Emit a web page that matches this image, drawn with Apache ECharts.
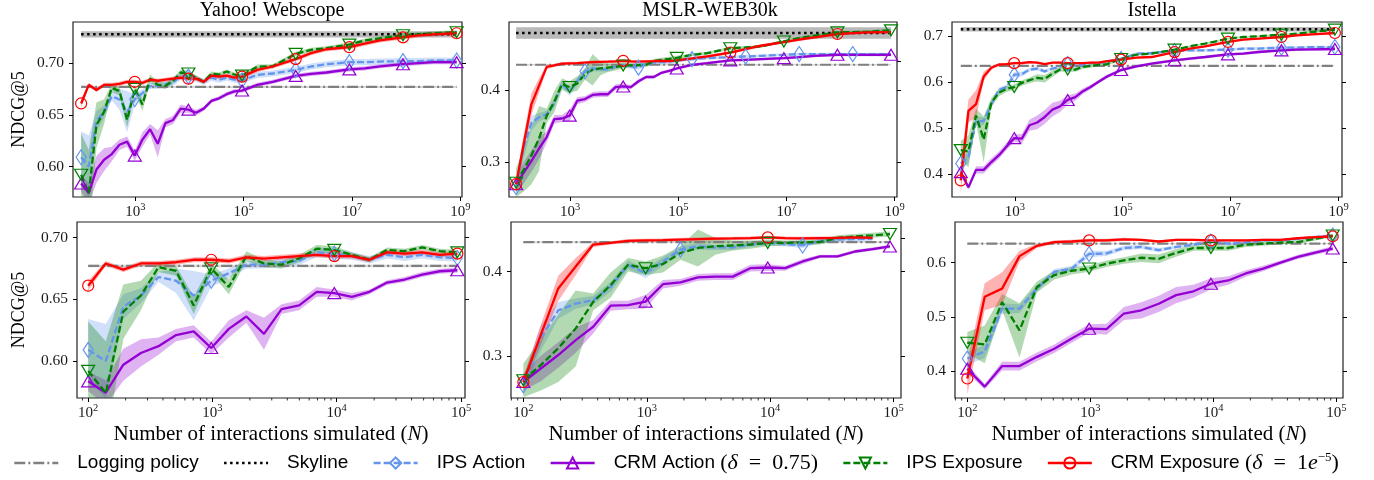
<!DOCTYPE html>
<html><head><meta charset="utf-8">
<script src="https://cdn.jsdelivr.net/npm/echarts@6/dist/echarts.min.js"></script>
<style>html,body{margin:0;padding:0;background:#fff}#c{width:1374px;height:480px}</style>
</head><body><div id="c"></div>
<script>
// ---------- DATA ----------
const N_VALUES = [100,138.5,191.8,265.7,368.0,509.7,705.9,977.7,1354,1875,2597,3597,4982,6900,9557,13236,18332,25390,35166,48705,67456,93427,
  179100,343500,913000,1752000,3360000,8928000,17130000,32860000,87300000,167500000,321300000,853500000];
const BOTTOM_POINTS = 22;

const MARKS_EVERY_7 = [0,7,14,21,24,27,30,33];
const MARKS_MSLR_CRM_EXPOSURE = [0,14,24,30];
const MARKS_MSLR_IPS_ACTION = [0,9,16,22,25,28,31];

const DATASET_TITLES = ['Yahoo! Webscope','MSLR-WEB30k','Istella'];
const LOGGING_POLICY = [0.677,0.435,0.635];
const LOGGING_POLICY_CI = [0.001,0.001,0.001];
const SKYLINE = [0.728,0.479,0.7146];
const SKYLINE_CI = [0.003,0.008,0.0047];

const TOP_X_TICKS = [1e3,1e5,1e7,1e9];
const BOTTOM_X_TICKS = [1e2,1e3,1e4,1e5];
const BOTTOM_X_MINOR_TICKS = [80,90,200,300,400,500,600,700,800,900,2000,3000,4000,5000,6000,7000,8000,9000,20000,30000,40000,50000,60000,70000,80000,90000];
const Y_TICKS_YAHOO = [0.60,0.65,0.70];
const Y_TICKS_MSLR = [0.3,0.4];
const Y_TICKS_MSLR_RIGHT = [0.3,0.4,0.44];
const Y_TICKS_ISTELLA_TOP = [0.4,0.5,0.6,0.7];
const Y_TICKS_ISTELLA_BOTTOM = [0.4,0.5,0.6];

// Yahoo! Webscope
const YAHOO_IPS_ACTION = [0.609,0.600,0.644,0.653,0.668,0.665,0.653,0.665,0.671,0.678,0.678,0.680,0.681,0.688,0.687,0.685,0.682,0.686,0.684,0.686,0.684,0.6835,0.6887,0.690,0.6935,0.6968,0.699,0.701,0.701,0.7016,0.702,0.702,0.7026,0.7026];
const YAHOO_IPS_ACTION_CI = [0.025,0.03,0.01,0.006,0.004,0.01,0.02,0.005,0.004,0.003,0.003,0.003,0.003,0.004,0.004,0.003,0.003,0.003,0.003,0.003,0.003,0.003,0.003,0.003,0.003,0.003,0.003,0.003,0.003,0.003,0.003,0.003,0.003,0.003];
const YAHOO_CRM_ACTION = [0.5835,0.5743,0.597,0.6065,0.612,0.621,0.624,0.6105,0.626,0.636,0.622,0.642,0.645,0.656,0.655,0.652,0.656,0.6635,0.666,0.670,0.6727,0.6735,0.679,0.682,0.6877,0.6897,0.691,0.694,0.695,0.697,0.699,0.700,0.701,0.701];
const YAHOO_CRM_ACTION_CI = [0.008,0.01,0.013,0.011,0.007,0.005,0.005,0.005,0.007,0.005,0.013,0.004,0.004,0.004,0.003,0.003,0.002,0.002,0.002,0.002,0.002,0.002,0.002,0.002,0.002,0.002,0.002,0.002,0.002,0.002,0.002,0.002,0.002,0.002];
const YAHOO_IPS_EXPOSURE = [0.592,0.574,0.640,0.653,0.676,0.673,0.645,0.675,0.660,0.685,0.679,0.678,0.683,0.691,0.690,0.686,0.682,0.690,0.689,0.692,0.689,0.688,0.6967,0.697,0.709,0.713,0.7145,0.718,0.722,0.724,0.727,0.728,0.729,0.730];
const YAHOO_IPS_EXPOSURE_CI = [0.04,0.042,0.022,0.012,0.004,0.004,0.007,0.004,0.006,0.004,0.003,0.003,0.003,0.003,0.003,0.002,0.002,0.002,0.002,0.002,0.002,0.002,0.002,0.002,0.002,0.002,0.002,0.002,0.002,0.002,0.002,0.002,0.002,0.002];
const YAHOO_CRM_EXPOSURE = [0.661,0.679,0.674,0.679,0.679,0.680,0.682,0.682,0.681,0.684,0.683,0.684,0.685,0.686,0.685,0.685,0.682,0.688,0.687,0.688,0.686,0.687,0.6935,0.6968,0.704,0.7097,0.7135,0.7155,0.719,0.722,0.725,0.727,0.728,0.729];
const YAHOO_CRM_EXPOSURE_CI = [0.004,0.002,0.002,0.002,0.002,0.002,0.002,0.002,0.002,0.002,0.002,0.002,0.002,0.002,0.002,0.002,0.002,0.002,0.002,0.002,0.002,0.002,0.002,0.002,0.002,0.002,0.002,0.002,0.002,0.002,0.002,0.002,0.002,0.002];

// MSLR-WEB30k
const MSLR_IPS_ACTION = [0.265,0.321,0.354,0.362,0.366,0.382,0.408,0.398,0.412,0.426,0.430,0.4286,0.4286,0.432,0.434,0.4326,0.431,0.4365,0.438,0.4385,0.439,0.441,0.4428,0.4442,0.4456,0.4465,0.4474,0.4488,0.4498,0.4498,0.4498,0.4498,0.4498,0.4498];
const MSLR_IPS_ACTION_CI = [0.01,0.015,0.01,0.006,0.005,0.006,0.005,0.006,0.005,0.004,0.004,0.003,0.003,0.003,0.003,0.003,0.003,0.003,0.003,0.003,0.003,0.003,0.002,0.002,0.002,0.002,0.002,0.002,0.002,0.002,0.002,0.002,0.002,0.002];
const MSLR_CRM_ACTION = [0.269,0.285,0.301,0.3186,0.3345,0.3595,0.3603,0.3643,0.385,0.3873,0.393,0.394,0.394,0.404,0.4048,0.404,0.412,0.418,0.418,0.4238,0.4266,0.4298,0.4349,0.4372,0.441,0.4419,0.4428,0.4442,0.4456,0.4474,0.4488,0.4488,0.4488,0.4488];
const MSLR_CRM_ACTION_CI = [0.01,0.015,0.015,0.015,0.008,0.006,0.005,0.008,0.005,0.004,0.004,0.004,0.004,0.004,0.004,0.003,0.003,0.002,0.002,0.002,0.002,0.002,0.002,0.002,0.002,0.002,0.002,0.002,0.002,0.002,0.002,0.002,0.002,0.002];
const MSLR_IPS_EXPOSURE = [0.271,0.289,0.309,0.3325,0.364,0.384,0.408,0.404,0.409,0.422,0.428,0.430,0.431,0.432,0.434,0.434,0.4345,0.435,0.440,0.4417,0.443,0.4445,0.4488,0.4511,0.458,0.459,0.4605,0.4674,0.472,0.4753,0.480,0.4804,0.481,0.4828];
const MSLR_IPS_EXPOSURE_CI = [0.02,0.03,0.04,0.045,0.01,0.015,0.008,0.008,0.01,0.008,0.022,0.01,0.006,0.005,0.004,0.003,0.003,0.003,0.003,0.003,0.003,0.003,0.002,0.002,0.002,0.002,0.002,0.002,0.002,0.002,0.002,0.002,0.002,0.002];
const MSLR_CRM_EXPOSURE = [0.269,0.325,0.380,0.406,0.432,0.434,0.4365,0.437,0.4373,0.438,0.4385,0.439,0.4393,0.4397,0.4405,0.4397,0.4393,0.4397,0.440,0.4405,0.440,0.441,0.4437,0.4465,0.452,0.4567,0.4614,0.4665,0.470,0.473,0.4777,0.479,0.480,0.4804];
const MSLR_CRM_EXPOSURE_CI = [0.006,0.012,0.015,0.01,0.003,0.002,0.002,0.002,0.002,0.002,0.002,0.002,0.002,0.002,0.002,0.002,0.002,0.002,0.002,0.002,0.002,0.002,0.002,0.002,0.002,0.002,0.002,0.002,0.002,0.002,0.002,0.002,0.002,0.002];

// Istella
const ISTELLA_IPS_ACTION = [0.423,0.436,0.515,0.515,0.552,0.583,0.589,0.616,0.617,0.627,0.629,0.623,0.629,0.633,0.639,0.635,0.637,0.641,0.641,0.644,0.647,0.650,0.6616,0.663,0.6674,0.6688,0.6688,0.6703,0.6725,0.6725,0.6746,0.6746,0.676,0.676];
const ISTELLA_IPS_ACTION_CI = [0.012,0.012,0.01,0.008,0.006,0.005,0.005,0.006,0.005,0.004,0.004,0.004,0.003,0.003,0.003,0.003,0.003,0.003,0.003,0.003,0.003,0.003,0.003,0.003,0.003,0.003,0.003,0.003,0.003,0.003,0.003,0.003,0.003,0.003];
const ISTELLA_CRM_ACTION = [0.404,0.371,0.409,0.409,0.426,0.441,0.460,0.478,0.477,0.506,0.512,0.524,0.540,0.547,0.561,0.567,0.580,0.589,0.600,0.6105,0.6185,0.626,0.634,0.6398,0.6471,0.6507,0.6543,0.6601,0.6616,0.6652,0.6688,0.6703,0.671,0.6717];
const ISTELLA_CRM_ACTION_CI = [0.008,0.005,0.008,0.008,0.008,0.008,0.008,0.008,0.01,0.012,0.015,0.015,0.015,0.012,0.01,0.008,0.006,0.005,0.004,0.004,0.004,0.004,0.003,0.003,0.003,0.003,0.003,0.003,0.003,0.003,0.003,0.003,0.003,0.003];
const ISTELLA_IPS_EXPOSURE = [0.452,0.449,0.527,0.475,0.555,0.577,0.585,0.589,0.598,0.604,0.609,0.607,0.618,0.627,0.627,0.627,0.633,0.635,0.637,0.638,0.644,0.650,0.6594,0.6616,0.6703,0.6775,0.6833,0.6942,0.6978,0.6993,0.7029,0.7051,0.7087,0.7138];
const ISTELLA_IPS_EXPOSURE_CI = [0.02,0.035,0.015,0.05,0.01,0.008,0.007,0.006,0.006,0.006,0.008,0.008,0.007,0.005,0.005,0.005,0.004,0.004,0.003,0.003,0.003,0.003,0.002,0.002,0.002,0.002,0.002,0.002,0.002,0.002,0.002,0.002,0.002,0.002];
const ISTELLA_CRM_EXPOSURE = [0.386,0.537,0.552,0.612,0.631,0.638,0.639,0.641,0.641,0.643,0.642,0.639,0.642,0.642,0.641,0.641,0.641,0.642,0.642,0.645,0.647,0.6486,0.6529,0.6543,0.665,0.6725,0.6775,0.687,0.692,0.6942,0.6978,0.7014,0.7036,0.7065];
const ISTELLA_CRM_EXPOSURE_CI = [0.03,0.025,0.03,0.01,0.004,0.003,0.003,0.003,0.003,0.003,0.002,0.002,0.002,0.002,0.002,0.002,0.002,0.002,0.002,0.002,0.002,0.002,0.002,0.002,0.002,0.002,0.002,0.002,0.002,0.002,0.002,0.002,0.002,0.002];

// ---------- STYLE / LAYOUT ----------
const METHOD_NAMES = ['IPS Action','CRM Action','IPS Exposure','CRM Exposure'];
const METHOD_STYLE = {
  'IPS Action':   {color:'#6495ED', band:'rgba(100,149,237,0.3)', type:[7,3], symbol:'diamond', size:[10,15], rotate:0},
  'CRM Action':   {color:'#9400D3', band:'rgba(148,0,211,0.3)',  type:'solid', symbol:'triangle', size:[13,11], rotate:0},
  'IPS Exposure': {color:'#008000', band:'rgba(0,128,0,0.3)',    type:[7,3], symbol:'triangle', size:[13,11], rotate:180},
  'CRM Exposure': {color:'#FF0000', band:'rgba(255,0,0,0.3)',    type:'solid', symbol:'circle', size:11, rotate:0}
};
const METHODS_BY_DATASET = [
  [[YAHOO_IPS_ACTION,YAHOO_IPS_ACTION_CI,MARKS_EVERY_7,22],[YAHOO_CRM_ACTION,YAHOO_CRM_ACTION_CI,MARKS_EVERY_7,22],
   [YAHOO_IPS_EXPOSURE,YAHOO_IPS_EXPOSURE_CI,MARKS_EVERY_7,22],[YAHOO_CRM_EXPOSURE,YAHOO_CRM_EXPOSURE_CI,MARKS_EVERY_7,22]],
  [[MSLR_IPS_ACTION,MSLR_IPS_ACTION_CI,MARKS_MSLR_IPS_ACTION,21],[MSLR_CRM_ACTION,MSLR_CRM_ACTION_CI,MARKS_EVERY_7,22],
   [MSLR_IPS_EXPOSURE,MSLR_IPS_EXPOSURE_CI,MARKS_EVERY_7,22],[MSLR_CRM_EXPOSURE,MSLR_CRM_EXPOSURE_CI,MARKS_MSLR_CRM_EXPOSURE,21]],
  [[ISTELLA_IPS_ACTION,ISTELLA_IPS_ACTION_CI,MARKS_EVERY_7,22],[ISTELLA_CRM_ACTION,ISTELLA_CRM_ACTION_CI,MARKS_EVERY_7,22],
   [ISTELLA_IPS_EXPOSURE,ISTELLA_IPS_EXPOSURE_CI,MARKS_EVERY_7,22],[ISTELLA_CRM_EXPOSURE,ISTELLA_CRM_EXPOSURE_CI,MARKS_EVERY_7,22]]
];

const PANELS = [
  {ds:0,row:0,box:[73,22,389,175], x:[Math.pow(10,1.85),Math.pow(10,9.03)], y:[0.5704,0.7399], yt:Y_TICKS_YAHOO, yr:Y_TICKS_YAHOO, dec:2, ylab:true},
  {ds:1,row:0,box:[509,22,388,175],x:[Math.pow(10,1.869),Math.pow(10,9.042)],y:[0.2512,0.4944],yt:Y_TICKS_MSLR, yr:Y_TICKS_MSLR_RIGHT, dec:1},
  {ds:2,row:0,box:[952,22,390,175],x:[Math.pow(10,1.837),Math.pow(10,9.063)],y:[0.35,0.7304], yt:Y_TICKS_ISTELLA_TOP, yr:Y_TICKS_ISTELLA_TOP, dec:1},
  {ds:0,row:1,box:[77,222,388,176],x:[Math.pow(10,1.91),Math.pow(10,5.032)], y:[0.570,0.7126], yt:Y_TICKS_YAHOO, yr:Y_TICKS_YAHOO, dec:2, ylab:true},
  {ds:1,row:1,box:[511,222,390,176],x:[Math.pow(10,1.90),Math.pow(10,5.06)], y:[0.25,0.4588], yt:Y_TICKS_MSLR, yr:Y_TICKS_MSLR_RIGHT, dec:1},
  {ds:2,row:1,box:[955,222,388,176],x:[Math.pow(10,1.90),Math.pow(10,5.054)],y:[0.35,0.675], yt:Y_TICKS_ISTELLA_BOTTOM, yr:Y_TICKS_ISTELLA_BOTTOM, dec:1}
];
const TITLE_X = [272,710,1152];

const SERIF = '"Liberation Serif","DejaVu Serif",serif';
const SANS = '"Liberation Sans","DejaVu Sans",sans-serif';
const INK = '#1a1a1a';
const LINE_W = 2.3;

const chart = echarts.init(document.getElementById('c'), null, {renderer:'canvas', width:1374, height:480});
const grids=[], xAxes=[], yAxes=[], series=[];

const supRich = {
  b:{fontFamily:SERIF,fontSize:15,color:INK,lineHeight:18,verticalAlign:'bottom'},
  s:{fontFamily:SERIF,fontSize:10.5,color:INK,lineHeight:11,verticalAlign:'top'}
};
function powLabel(v){ return '{b|10}{s|' + Math.round(Math.log10(v)) + '}'; }

// confidence band drawn as one polygon through the axes' own coordinate system
function addBand(k, xs, lo, hi, fill, z){
  series.push({type:'custom', xAxisIndex:k, yAxisIndex:k, silent:true, clip:true, z:z,
    data: xs.map((x,i)=>[x, lo[i], hi[i]]),
    encode:{x:0, y:[1,2]},
    renderItem:(params, api)=>{
      if (params.dataIndex !== 0) return null;
      const pts = [];
      for (let i=0;i<xs.length;i++) pts.push(api.coord([xs[i], hi[i]]));
      for (let i=xs.length-1;i>=0;i--) pts.push(api.coord([xs[i], lo[i]]));
      return {type:'polygon', shape:{points:pts}, style:{fill:fill, stroke:null, lineWidth:0}};
    }});
}

PANELS.forEach((p,k)=>{
  grids.push({left:p.box[0], top:p.box[1], width:p.box[2], height:p.box[3], show:true,
    borderColor:'#222', borderWidth:1.2, backgroundColor:'rgba(0,0,0,0)', containLabel:false, outerBoundsMode:'none'});
  const xt = p.row===0 ? TOP_X_TICKS : BOTTOM_X_TICKS;
  const xa = {type:'log', logBase:10, gridIndex:k, min:p.x[0], max:p.x[1], position:'bottom',
    axisLine:{show:false}, splitLine:{show:false}, minorTick:{show:false},
    axisTick:{show:true, inside:false, length:4, lineStyle:{color:'#000', width:1}, customValues:xt},
    axisLabel:{show:true, customValues:xt, margin:5, formatter:powLabel, rich:supRich}};
  if (p.row===1){
    xa.name = '{a|Number of interactions simulated (}{i|N}{a|)}';
    xa.nameLocation='middle'; xa.nameGap=26;
    xa.nameTextStyle={rich:{a:{fontFamily:SERIF,fontSize:21,color:'#000'}, i:{fontFamily:SERIF,fontStyle:'italic',fontSize:21,color:'#000'}}};
  }
  xAxes.push(xa);
  const ya = {type:'value', gridIndex:k, min:p.y[0], max:p.y[1], position:'left',
    axisLine:{show:false, onZero:false}, splitLine:{show:false},
    axisTick:{show:true, inside:false, length:4, lineStyle:{color:'#000', width:1}, customValues:p.yt},
    axisLabel:{show:true, customValues:p.yt, margin:9, fontFamily:SERIF, fontSize:15.5, color:INK, formatter:v=>v.toFixed(p.dec)}};
  if (p.ylab){ ya.name='NDCG@5'; ya.nameLocation='middle'; ya.nameRotate=90; ya.nameGap = p.row===0?45:49;
    ya.nameTextStyle={fontFamily:SERIF,fontSize:18,color:'#000'}; }
  yAxes.push(ya);
});
PANELS.forEach((p,k)=>{
  yAxes.push({type:'value', gridIndex:k, min:p.y[0], max:p.y[1], position:'right',
    axisLine:{show:false, onZero:false}, splitLine:{show:false}, axisLabel:{show:false, customValues:p.yr},
    axisTick:{show:true, inside:false, length:4, lineStyle:{color:'#000', width:1}, customValues:p.yr}});
});

PANELS.forEach((p,k)=>{
  const d = p.ds;
  const count = p.row===0 ? N_VALUES.length : BOTTOM_POINTS;
  const xsAll = N_VALUES.slice(0, count);
  const ends = [xsAll[0], xsAll[xsAll.length-1]];
  addBand(k, ends, ends.map(()=>SKYLINE[d]-SKYLINE_CI[d]), ends.map(()=>SKYLINE[d]+SKYLINE_CI[d]), 'rgba(128,128,128,0.55)', 1);
  addBand(k, ends, ends.map(()=>LOGGING_POLICY[d]-LOGGING_POLICY_CI[d]), ends.map(()=>LOGGING_POLICY[d]+LOGGING_POLICY_CI[d]), 'rgba(128,128,128,0.3)', 1);
  METHODS_BY_DATASET[d].forEach((m,j)=>{
    const n = p.row===0 ? N_VALUES.length : m[3];
    const xs = N_VALUES.slice(0,n);
    const mean = m[0].slice(0,n), ci = m[1].slice(0,n);
    addBand(k, xs, mean.map((v,i)=>v-ci[i]), mean.map((v,i)=>v+ci[i]), METHOD_STYLE[METHOD_NAMES[j]].band, 1);
  });
  series.push({type:'line', name:'Logging policy', xAxisIndex:k, yAxisIndex:k, z:2, symbol:'none', symbolSize:0, silent:true,
    data: ends.map(x=>[x, LOGGING_POLICY[d]]), lineStyle:{color:'#808080', width:2.2, type:[11,3,2,3]},
    itemStyle:{color:'rgba(0,0,0,0)', borderWidth:0}});
  series.push({type:'line', name:'Skyline', xAxisIndex:k, yAxisIndex:k, z:2, symbol:'none', symbolSize:0, silent:true,
    data: ends.map(x=>[x, SKYLINE[d]]), lineStyle:{color:'#000', width:2.5, type:[2.5,3.5]},
    itemStyle:{color:'rgba(0,0,0,0)', borderWidth:0}});
  METHODS_BY_DATASET[d].forEach((m,j)=>{
    const name = METHOD_NAMES[j], st = METHOD_STYLE[name];
    const n = p.row===0 ? N_VALUES.length : m[3];
    const marks = m[2];
    series.push({type:'line', name:name, xAxisIndex:k, yAxisIndex:k, z:3, silent:true, showSymbol:true,
      symbol:st.symbol, symbolSize:st.size, symbolRotate:st.rotate,
      data: N_VALUES.slice(0,n).map((x,i)=>({value:[x, m[0][i]], symbol: marks.indexOf(i)>=0 ? st.symbol : 'none'})),
      lineStyle:{color:st.color, width:LINE_W, type:st.type},
      itemStyle:{color:'rgba(255,255,255,0)', borderColor:st.color, borderWidth:1.2},
      emphasis:{disabled:true}});
  });
  if (p.row===1){
    series.push({type:'custom', xAxisIndex:k, yAxisIndex:k, silent:true, clip:false, z:5,
      data: BOTTOM_X_MINOR_TICKS.map(v=>[v, p.y[0]]),
      renderItem:(params, api)=>{
        const v = api.value(0);
        if (v < p.x[0] || v > p.x[1]) return null;
        const pt = api.coord([v, api.value(1)]);
        return {type:'line', shape:{x1:pt[0], y1:pt[1], x2:pt[0], y2:pt[1]+2.5}, style:{stroke:'#000', lineWidth:0.8}};
      }});
  }
});

const LEGEND_LABELS = {
  'Logging policy':'{s|Logging policy}',
  'Skyline':'{s|Skyline}',
  'IPS Action':'{s|IPS Action}',
  'CRM Action':'{s|CRM Action }{m|(}{mi|δ}{m|\u2002=\u20020.75)}',
  'IPS Exposure':'{s|IPS Exposure}',
  'CRM Exposure':'{s|CRM Exposure }{m|(}{mi|δ}{m|\u2002=\u20021}{mi|e}{sup|−5}{m|)}'
};

const option = {
  animation:false,
  backgroundColor:'#fff',
  grid:grids, xAxis:xAxes, yAxis:yAxes, series:series,
  legend:{show:true, left:8, top:446, itemWidth:44, itemHeight:14, itemGap:24,
    data:['Logging policy','Skyline','IPS Action','CRM Action','IPS Exposure','CRM Exposure'],
    formatter:name=>LEGEND_LABELS[name], selectedMode:false,
    lineStyle:{width:2.6},
    textStyle:{padding:[0,0,0,14], rich:{
      s:{fontFamily:SANS,fontSize:19,color:'#000',lineHeight:24},
      m:{fontFamily:SERIF,fontSize:22,color:'#000',lineHeight:24},
      mi:{fontFamily:SERIF,fontStyle:'italic',fontSize:22,color:'#000',lineHeight:24},
      sup:{fontFamily:SERIF,fontSize:13,color:'#000',lineHeight:13,verticalAlign:'top'}
    }}},
  graphic: DATASET_TITLES.map((t,i)=>({type:'text', x:TITLE_X[i], y:11, silent:true,
    style:{text:t, font:'20px ' + SERIF, fill:'#000', textAlign:'center', verticalAlign:'middle', textVerticalAlign:'middle'}}))
};
chart.setOption(option);
</script></body></html>
